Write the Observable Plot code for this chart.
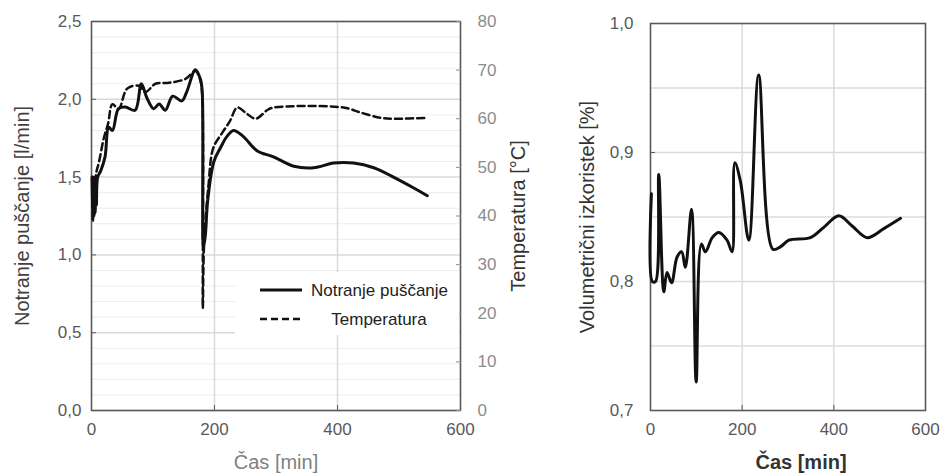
<!DOCTYPE html>
<html><head><meta charset="utf-8">
<script src="https://cdn.jsdelivr.net/npm/d3@7"></script>
<script src="https://cdn.jsdelivr.net/npm/@observablehq/plot@0.6"></script>
<style>
body{margin:0;background:#fff}
#root{position:relative;width:940px;height:474px;font-family:"Liberation Sans",Arial,sans-serif;background:#fff}
#root svg{position:absolute;top:0}
#legend{position:absolute;left:235px;top:272px;width:224px;height:63px;background:#fff}
</style>
</head><body><div id="root"></div>
<script>
// ---- data ----
const leakTime  = [1,2,3,4,5,6,7,8,10,15,22,28,34,44,55,71,81,90,101,110,120,132,147,155,169,177,180,182,185,189,199,210,220,231,247,269,296,329,361,394,426,459,491,524,546];
const leakValue = [1.50,1.22,1.48,1.25,1.50,1.27,1.46,1.32,1.50,1.54,1.63,1.82,1.80,1.94,1.95,1.93,2.10,2.01,1.94,1.97,1.93,2.02,1.99,2.05,2.19,2.13,2.05,1.05,1.12,1.35,1.60,1.69,1.76,1.80,1.76,1.67,1.63,1.57,1.56,1.59,1.59,1.56,1.50,1.43,1.38];
const tempTime  = [1,2,3,4,5,6,8,12,20,27,34,44,58,77,88,104,126,153,169,177,180,181,183,190,198,212,225,237,253,267,286,296,410,437,470,491,546];
const tempValue = [48,42,47,43,48,45,49,51,56,59,63,62,66.2,66.8,65.5,67.2,67.4,68.2,69.8,67.9,65,21,34,46,54,57,59.5,62.3,61,60,61.8,62.3,62.3,61.3,60.2,60,60.2];
const effTime   = [2,4,11,18,29,36,46,58,68,76,89.5,99.6,111,120,134.6,149,167,178,184,196,214.5,236,267,284,302,349,378,411,440,473,509,545.5];
const effValue  = [0.868,0.800,0.800,0.883,0.792,0.807,0.799,0.819,0.823,0.811,0.856,0.722,0.829,0.823,0.834,0.838,0.832,0.823,0.892,0.878,0.832,0.960,0.825,0.827,0.832,0.834,0.842,0.851,0.843,0.834,0.841,0.849];

const xTicks    = [0,200,400,600];
const leakTicks = [0,0.5,1.0,1.5,2.0,2.5];
const tempTicks = [0,10,20,30,40,50,60,70,80];
const effTicks  = [0.7,0.8,0.9,1.0];
const effGrid   = [0.75,0.8,0.85,0.9,0.95];

const leakLabel = "Notranje puščanje [l/min]";
const tempLabel = "Temperatura [°C]";
const effLabel  = "Volumetrični izkoristek [%]";
const timeLabel = "Čas [min]";
const legendNames = ["Notranje puščanje", "Temperatura"];

// ---- derived ----
const tScale = 2.5 / 80;
const comma = d => d.toFixed(1).replace(".", ",");
const leak = leakTime.map((t, i) => ({t, v: leakValue[i]}));
const temp = tempTime.map((t, i) => ({t, v: tempValue[i] * tScale}));
const eff  = effTime.map((t, i) => ({t, v: effValue[i]}));
const minorLeak = d3.range(1, 25).filter(i => i % 5 !== 0).map(i => i / 10);

const style = {fontFamily: '"Liberation Sans", Arial, sans-serif', fontSize: "17px", background: "transparent", overflow: "visible"};

const left = Plot.plot({
  width: 560, height: 474,
  marginLeft: 91, marginRight: 100, marginTop: 21, marginBottom: 64,
  style,
  x: {domain: [0, 600]},
  y: {domain: [0, 2.5]},
  marks: [
    Plot.gridY(minorLeak, {stroke: "#ececec", strokeOpacity: 1}),
    Plot.gridY(leakTicks, {stroke: "#d9d9d9", strokeOpacity: 1, strokeWidth: 1.5}),
    Plot.gridX([200, 400], {stroke: "#d9d9d9", strokeOpacity: 1, strokeWidth: 1.5}),
    Plot.frame({stroke: "#595959", strokeWidth: 1.6}),
    Plot.axisY(leakTicks, {tickFormat: comma, tickSize: -5, tickPadding: 15, color: "#595959", label: null}),
    Plot.axisY(tempTicks.map(d => d * tScale), {anchor: "right", tickFormat: d => String(Math.round(d / tScale)), tickSize: -5, tickPadding: 22, color: "#8c8c8c", label: null}),
    Plot.axisX(xTicks, {tickSize: -5, tickPadding: 17, color: "#595959", label: null}),
    Plot.line(temp, {x: "t", y: "v", stroke: "#111", strokeWidth: 2.5, strokeDasharray: "7,4", curve: "catmull-rom"}),
    Plot.line(leak, {x: "t", y: "v", stroke: "#111", strokeWidth: 3, curve: "catmull-rom"}),
    Plot.text([leakLabel], {frameAnchor: "left", dx: -69, rotate: -90, textAnchor: "middle", lineAnchor: "middle", fontSize: 20, fill: "#404040"}),
    Plot.text([tempLabel], {frameAnchor: "right", dx: 58, rotate: -90, textAnchor: "middle", lineAnchor: "middle", fontSize: 20, fill: "#333"}),
    Plot.text([timeLabel], {frameAnchor: "bottom", dy: 52, textAnchor: "middle", lineAnchor: "middle", fontSize: 20, fill: "#808080"})
  ]
});

const right = Plot.plot({
  width: 380, height: 474,
  marginLeft: 90, marginRight: 15, marginTop: 23, marginBottom: 64,
  style,
  x: {domain: [0, 600]},
  y: {domain: [0.7, 1.0]},
  marks: [
    Plot.gridY(effGrid, {stroke: "#dcdcdc", strokeOpacity: 1, strokeWidth: 1.5}),
    Plot.gridX([200, 400], {stroke: "#dcdcdc", strokeOpacity: 1, strokeWidth: 1.5}),
    Plot.frame({stroke: "#595959", strokeWidth: 1.6}),
    Plot.axisY(effTicks, {tickFormat: comma, tickSize: -5, tickPadding: 22, color: "#595959", label: null}),
    Plot.axisX(xTicks, {tickSize: -5, tickPadding: 17, color: "#595959", label: null}),
    Plot.line(eff, {x: "t", y: "v", stroke: "#111", strokeWidth: 3, curve: "catmull-rom"}),
    Plot.text([effLabel], {frameAnchor: "left", dx: -63, rotate: -90, textAnchor: "middle", lineAnchor: "middle", fontSize: 20, fill: "#333"}),
    Plot.text([timeLabel], {frameAnchor: "bottom", dy: 52, dx: 13, textAnchor: "middle", lineAnchor: "middle", fontSize: 20, fill: "#333", fontWeight: "bold"})
  ]
});

const root = document.getElementById("root");
left.style.left = "0px";
right.style.left = "560px";
root.appendChild(left);
root.appendChild(right);

// legend (white box over the grid, like the source)
const legend = document.createElement("div");
legend.id = "legend";
legend.innerHTML = `
<svg width="224" height="63" style="position:absolute;left:0;top:0;overflow:visible;font-family:'Liberation Sans',Arial,sans-serif">
  <line x1="25" x2="67" y1="18" y2="18" stroke="#111" stroke-width="3"/>
  <text x="76" y="18" dy="0.35em" font-size="17" fill="#222">${legendNames[0]}</text>
  <line x1="25" x2="67" y1="47" y2="47" stroke="#111" stroke-width="2.5" stroke-dasharray="7,4"/>
  <text x="144" y="47" dy="0.35em" font-size="17" fill="#222" text-anchor="middle">${legendNames[1]}</text>
</svg>`;
root.appendChild(legend);
</script>
</body></html>
